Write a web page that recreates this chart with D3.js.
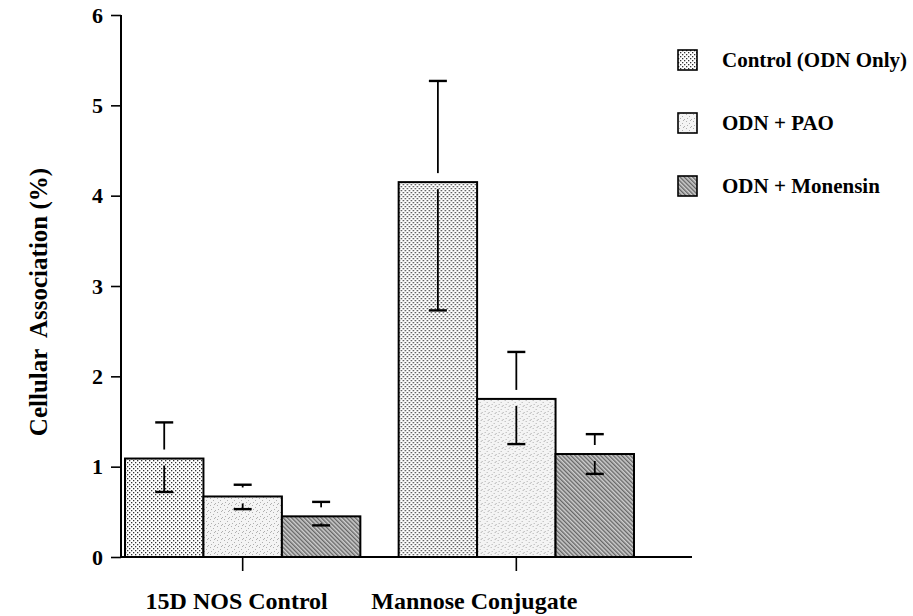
<!DOCTYPE html>
<html>
<head>
<meta charset="utf-8">
<script src="https://cdn.jsdelivr.net/npm/d3@7"></script>
<style>
	body { margin: 0; background: #fff; }
	svg { display: block; font-family: "Liberation Serif", "DejaVu Serif", serif; font-weight: bold; }
</style>
</head>
<body>
<svg width="913" height="616"></svg>
<script>
// data........................................................................

var groups = ["15D NOS Control", "Mannose Conjugate"],
	series = ["Control (ODN Only)", "ODN + PAO", "ODN + Monensin"],
	means = [[1.09, 0.67, 0.45], [4.15, 1.75, 1.14]],
	errHigh = [[1.49, 0.80, 0.61], [5.27, 2.27, 1.36]],
	errLow = [[0.72, 0.53, 0.35], [2.73, 1.25, 0.92]],
	yTicks = [0, 1, 2, 3, 4, 5, 6];

// scales and layout...........................................................

var svg = d3.select("svg"),
	axLeft = 121, axRight = 692, axTop = 15, axBottom = 557;

var y = d3.scaleLinear().domain([0, 6]).range([axBottom, axTop]),
	x0 = d3.scaleBand().domain(groups).range([125, 634]).paddingInner(0.14),
	x1 = d3.scaleBand().domain(series).range([0, x0.bandwidth()]);

// fill patterns...............................................................

var defs = svg.append("defs");

var p0 = defs.append("pattern").attr("id", "pat0")
	.attr("patternUnits", "userSpaceOnUse").attr("width", 4).attr("height", 4);
p0.append("rect").attr("width", 4).attr("height", 4).attr("fill", "#fff");
p0.append("rect").attr("x", 0).attr("y", 0).attr("width", 1.3).attr("height", 1.3).attr("fill", "#333");
p0.append("rect").attr("x", 2).attr("y", 2).attr("width", 1.3).attr("height", 1.3).attr("fill", "#333");

var p1 = defs.append("pattern").attr("id", "pat1")
	.attr("patternUnits", "userSpaceOnUse").attr("width", 7).attr("height", 7);
p1.append("rect").attr("width", 7).attr("height", 7).attr("fill", "#f4f4f4");
[[1, 1], [4, 3], [2, 5], [6, 6], [5, 0]].forEach(function(d) {
	p1.append("rect").attr("x", d[0]).attr("y", d[1])
		.attr("width", 1).attr("height", 1).attr("fill", "#b0b0b0");
});

var p2 = defs.append("pattern").attr("id", "pat2")
	.attr("patternUnits", "userSpaceOnUse").attr("width", 3).attr("height", 3)
	.attr("patternTransform", "rotate(-45)");
p2.append("rect").attr("width", 3).attr("height", 3).attr("fill", "#cfcfcf");
p2.append("rect").attr("width", 1.4).attr("height", 3).attr("fill", "#666");

var fills = ["url(#pat0)", "url(#pat1)", "url(#pat2)"];

// bars........................................................................

function cells(d, i) {
	return series.map(function(s, j) {
		return {s: s, j: j, v: means[i][j], hi: errHigh[i][j], lo: errLow[i][j]};
	});
}

var group = svg.append("g").selectAll("g")
	.data(groups)
	.enter().append("g")
		.attr("transform", function(d) { return "translate(" + x0(d) + ",0)"; });

group.selectAll("rect")
	.data(cells)
	.enter().append("rect")
		.attr("x", function(d) { return x1(d.s); })
		.attr("y", function(d) { return y(d.v); })
		.attr("width", x1.bandwidth())
		.attr("height", function(d) { return y(0) - y(d.v); })
		.attr("fill", function(d) { return fills[d.j]; })
		.attr("stroke", "#000")
		.attr("stroke-width", 2);

// error bars, broken around the bar top like the original print
var err = group.selectAll("g.err")
	.data(cells)
	.enter().append("g")
		.attr("class", "err")
		.attr("stroke", "#000")
		.attr("transform", function(d) {
			return "translate(" + (x1(d.s) + x1.bandwidth() / 2) + ",0)"; });

err.append("line")
	.attr("y1", function(d) { return y(d.hi); })
	.attr("y2", function(d) { return Math.max(y(d.hi), y(d.v) - 9); })
	.attr("stroke-width", 1.8);
err.append("line")
	.attr("y1", function(d) { return Math.min(y(d.lo), y(d.v) + 7); })
	.attr("y2", function(d) { return y(d.lo); })
	.attr("stroke-width", 1.8);
err.append("line")
	.attr("x1", -9).attr("x2", 9)
	.attr("y1", function(d) { return y(d.hi); })
	.attr("y2", function(d) { return y(d.hi); })
	.attr("stroke-width", 2.4);
err.append("line")
	.attr("x1", -9).attr("x2", 9)
	.attr("y1", function(d) { return y(d.lo); })
	.attr("y2", function(d) { return y(d.lo); })
	.attr("stroke-width", 2.4);

// axes........................................................................

var yAxis = svg.append("g")
	.attr("transform", "translate(" + axLeft + ",0)")
	.call(d3.axisLeft(y).tickValues(yTicks).tickSize(10).tickPadding(8)
		.tickFormat(d3.format("d")));
yAxis.select(".domain").attr("d", "M0," + axTop + "V" + axBottom).attr("stroke-width", 2);
yAxis.selectAll(".tick line").attr("stroke-width", 1.6);
yAxis.selectAll("text")
	.attr("font-size", 22).attr("font-family", "Liberation Serif").attr("font-weight", "bold")
	.attr("fill", "#000");

var xAxis = svg.append("g")
	.attr("transform", "translate(0," + axBottom + ")")
	.call(d3.axisBottom(x0).tickSize(14).tickPadding(21));
xAxis.select(".domain").attr("d", "M" + axLeft + ",0H" + axRight).attr("stroke-width", 2);
xAxis.selectAll(".tick line").attr("stroke-width", 1.6);
xAxis.selectAll("text")
	.attr("font-size", 24).attr("font-family", "Liberation Serif").attr("font-weight", "bold")
	.attr("dx", function(d, i) { return i ? -42 : -6; })
	.attr("fill", "#000");

svg.append("text")
	.attr("transform", "translate(47,302) rotate(-90)")
	.attr("text-anchor", "middle")
	.attr("font-size", 25)
	.style("white-space", "pre")
	.text("Cellular  Association (%)");

// legend......................................................................

var legend = svg.append("g").selectAll("g")
	.data(series)
	.enter().append("g")
		.attr("transform", function(d, i) { return "translate(678," + (50 + i * 63) + ")"; });

legend.append("rect")
	.attr("width", 19).attr("height", 20)
	.attr("fill", function(d, i) { return fills[i]; })
	.attr("stroke", "#000").attr("stroke-width", 1.6);

legend.append("text")
	.attr("x", 44).attr("y", 17)
	.attr("font-size", 21)
	.text(function(d) { return d; });
</script>
</body>
</html>
